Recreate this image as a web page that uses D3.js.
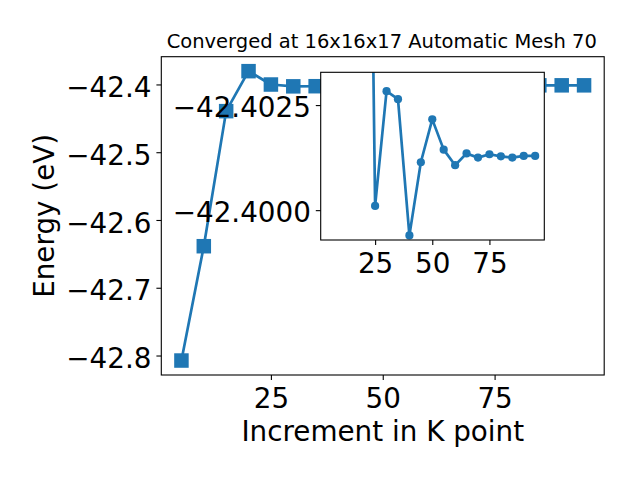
<!DOCTYPE html>
<html>
<head>
<meta charset="utf-8">
<script src="https://cdn.jsdelivr.net/npm/d3@7"></script>
<style>
  html, body { margin: 0; padding: 0; background: #fff; }
  svg { display: block; }
  text { font-family: "DejaVu Sans", sans-serif; fill: #000; }
</style>
</head>
<body>
<svg id="chart" width="640" height="480"></svg>
<script>
// ---- data ----
const kPoints = [5, 10, 15, 20, 25, 30, 35, 40, 45, 50, 55, 60, 65, 70, 75, 80, 85, 90, 95];
const energy = [-42.8074, -42.6387, -42.4394, -42.3804, -42.4001, -42.4028, -42.4026, -42.3994,
                -42.4011, -42.4022, -42.4014, -42.4011, -42.4014, -42.4013, -42.4013, -42.4013,
                -42.4013, -42.4013, -42.4013];
const insetK = [20, 25, 30, 35, 40, 45, 50, 55, 60, 65, 70, 75, 80, 85, 90, 95];
const insetEnergy = [-42.4214, -42.40010, -42.40283, -42.40264, -42.39940, -42.40114, -42.40216,
                     -42.40144, -42.40107, -42.40135, -42.40125, -42.40133, -42.40128, -42.40125,
                     -42.40129, -42.40129];
const mainXTicks = [25, 50, 75];
const mainYTicks = [-42.8, -42.7, -42.6, -42.5, -42.4];
const insetXTicks = [25, 50, 75];
const insetYTicks = [-42.4025, -42.4000];
const titleText = "Converged at 16x16x17 Automatic Mesh 70";
const xLabelText = "Increment in K point";
const yLabelText = "Energy (eV)";

const blue = "#1f77b4";
const svg = d3.select("#chart");
const minus = s => s.replace("-", "\u2212");

// ---- main axes ----
const M = { left: 161.3, right: 604.2, top: 56.7, bottom: 375 };
function pad(ext) { const r = ext[1] - ext[0]; return [ext[0] - 0.05 * r, ext[1] + 0.05 * r]; }
const x = d3.scaleLinear().domain(pad(d3.extent(kPoints))).range([M.left, M.right]);
const y = d3.scaleLinear().domain(pad(d3.extent(energy))).range([M.bottom, M.top]);

svg.append("clipPath").attr("id", "mainClip").append("rect")
  .attr("x", M.left).attr("y", M.top).attr("width", M.right - M.left).attr("height", M.bottom - M.top);

const mainData = kPoints.map((k, i) => [k, energy[i]]);
const gMain = svg.append("g").attr("clip-path", "url(#mainClip)");
gMain.append("path").datum(mainData)
  .attr("fill", "none").attr("stroke", blue).attr("stroke-width", 2.7).attr("stroke-linejoin", "round")
  .attr("d", d3.line().x(d => x(d[0])).y(d => y(d[1])));
const sq = 14.5;
gMain.selectAll("rect.m").data(mainData).enter().append("rect")
  .attr("x", d => x(d[0]) - sq / 2).attr("y", d => y(d[1]) - sq / 2)
  .attr("width", sq).attr("height", sq).attr("fill", blue);

const fs = 27.8;
// x axis
const xAxis = d3.axisBottom(x).tickValues(mainXTicks).tickSize(4.9).tickPadding(4.9).tickFormat(d3.format("d"));
const gx = svg.append("g").attr("transform", `translate(0,${M.bottom})`).call(xAxis);
gx.select(".domain").remove();
gx.selectAll("line").attr("stroke", "#000").attr("stroke-width", 1.1);
gx.selectAll("text").attr("font-size", fs).attr("font-family", "DejaVu Sans").attr("dy", null).attr("y", 33).attr("fill", "#000");
// y axis
const yAxis = d3.axisLeft(y).tickValues(mainYTicks).tickSize(4.9).tickPadding(4.9).tickFormat(d => minus(d3.format(".1f")(d)));
const gy = svg.append("g").attr("transform", `translate(${M.left},0)`).call(yAxis);
gy.select(".domain").remove();
gy.selectAll("line").attr("stroke", "#000").attr("stroke-width", 1.1);
gy.selectAll("text").attr("font-size", fs).attr("font-family", "DejaVu Sans").attr("dy", "0.44em").attr("fill", "#000");

svg.append("rect").attr("x", M.left).attr("y", M.top).attr("width", M.right - M.left).attr("height", M.bottom - M.top)
  .attr("fill", "none").attr("stroke", "#000").attr("stroke-width", 1.1);

svg.append("text").attr("x", (M.left + M.right) / 2).attr("y", 441).attr("text-anchor", "middle")
  .attr("font-size", fs).text(xLabelText);
svg.append("text").attr("transform", `translate(53.6,${(M.top + M.bottom) / 2}) rotate(-90)`)
  .attr("text-anchor", "middle").attr("font-size", fs).text(yLabelText);
svg.append("text").attr("x", (M.left + M.right) / 2 - 1).attr("y", 48.3).attr("text-anchor", "middle")
  .attr("font-size", 19.5).text(titleText);

// ---- inset axes ----
const I = { left: 320.7, right: 544.3, top: 72.3, bottom: 240 };
const xi = d3.scaleLinear().domain([1.2, 99.0]).range([I.left, I.right]);
const yi = d3.scaleLinear().domain([-42.39929, -42.40328]).range([I.bottom, I.top]);

svg.append("rect").attr("x", I.left).attr("y", I.top).attr("width", I.right - I.left).attr("height", I.bottom - I.top)
  .attr("fill", "#fff");
svg.append("clipPath").attr("id", "insetClip").append("rect")
  .attr("x", I.left).attr("y", I.top).attr("width", I.right - I.left).attr("height", I.bottom - I.top);
const insetData = insetK.map((k, i) => [k, insetEnergy[i]]);
const gIn = svg.append("g").attr("clip-path", "url(#insetClip)");
gIn.append("path").datum(insetData)
  .attr("fill", "none").attr("stroke", blue).attr("stroke-width", 2.7).attr("stroke-linejoin", "round")
  .attr("d", d3.line().x(d => xi(d[0])).y(d => yi(d[1])));
gIn.selectAll("circle").data(insetData).enter().append("circle")
  .attr("cx", d => xi(d[0])).attr("cy", d => yi(d[1])).attr("r", 4.1).attr("fill", blue);

const gxi = svg.append("g").attr("transform", `translate(0,${I.bottom})`)
  .call(d3.axisBottom(xi).tickValues(insetXTicks).tickSize(4.9).tickPadding(4.9).tickFormat(d3.format("d")));
gxi.select(".domain").remove();
gxi.selectAll("line").attr("stroke", "#000").attr("stroke-width", 1.1);
gxi.selectAll("text").attr("font-size", fs).attr("font-family", "DejaVu Sans").attr("dy", null).attr("y", 33.3).attr("fill", "#000");

const gyi = svg.append("g").attr("transform", `translate(${I.left},0)`)
  .call(d3.axisLeft(yi).tickValues(insetYTicks).tickSize(4.9).tickPadding(4.9).tickFormat(d => minus(d3.format(".4f")(d))));
gyi.select(".domain").remove();
gyi.selectAll("line").attr("stroke", "#000").attr("stroke-width", 1.1);
gyi.selectAll("text").attr("font-size", fs).attr("font-family", "DejaVu Sans").attr("dy", "0.42em").attr("fill", "#000");

svg.append("rect").attr("x", I.left).attr("y", I.top).attr("width", I.right - I.left).attr("height", I.bottom - I.top)
  .attr("fill", "none").attr("stroke", "#000").attr("stroke-width", 1.1);
</script>
</body>
</html>
